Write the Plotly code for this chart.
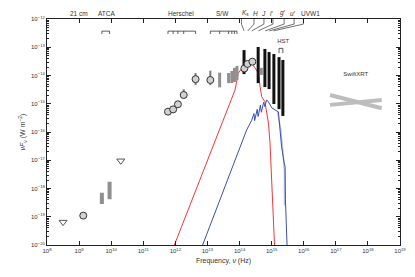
import plotly.graph_objects as go

# ---------------- data (log10 frequency [Hz], log10 nuFnu [W m^-2]) ----------------
lim_logf = [8.50, 10.30]
lim_logy = [-19.19, -17.02]

circ_logf = [9.13, 11.77, 11.93, 12.08, 12.26, 12.63, 13.09, 14.15, 14.25, 14.40]
circ_logy = [-18.96, -15.28, -15.20, -15.02, -14.69, -14.13, -14.16, -13.75, -13.59, -13.51]
circ_hi = [-18.92, -15.22, -15.14, -14.96, -14.49, -13.91, -13.83, -13.70, -13.55, -13.47]
circ_lo = [-19.00, -15.34, -15.26, -15.08, -14.81, -14.34, -14.34, -13.80, -13.63, -13.55]

radio_bar_logf = [9.71, 9.95]
radio_bar_top = [-18.15, -17.76]
radio_bar_bot = [-18.55, -18.38]

ir_bar_logf = [13.38, 13.66, 13.76, 13.84, 13.92, 14.68]
ir_bar_top = [-13.90, -13.91, -13.84, -13.73, -13.66, -13.73]
ir_bar_bot = [-14.42, -14.27, -14.27, -14.23, -14.16, -13.98]

opt_bar_logf = [14.14, 14.58, 14.79, 14.92, 15.07, 15.23, 15.35]
opt_bar_top = [-13.10, -12.99, -13.06, -13.17, -13.24, -13.35, -13.45]
opt_bar_bot = [-13.95, -14.27, -14.41, -14.48, -15.01, -15.19, -15.43]

red_logf = [11.97, 13.38, 13.60, 13.86, 13.96, 14.07, 14.20, 14.30, 14.38, 14.48, 14.59,
            14.64, 14.69, 14.79, 14.85, 14.90, 14.95, 15.00, 15.05, 15.08, 15.09]
red_logy = [-20.0, -15.93, -15.28, -14.51, -13.92, -13.75, -13.66, -13.60, -13.57, -13.73, -13.92,
            -14.40, -14.75, -14.93, -15.33, -15.68, -16.39, -17.58, -18.76, -19.93, -20.0]

blue_logf = [12.85, 14.22, 14.38, 14.45, 14.47, 14.55, 14.58, 14.65, 14.68, 14.75, 14.79,
             14.84, 14.88, 15.01, 15.21, 15.26, 15.31, 15.39, 15.42, 15.43, 15.47, 15.48]
blue_logy = [-20.0, -15.93, -15.58, -15.35, -15.60, -15.20, -15.45, -15.05, -15.30, -14.95, -15.10,
             -14.87, -14.90, -15.15, -15.29, -15.93, -16.52, -17.10, -17.23, -18.40, -19.50, -20.0]

blue_pale_logf = [15.18, 15.28, 15.36, 15.40, 15.40]
blue_pale_logy = [-15.25, -15.90, -16.80, -17.40, -18.60]

xrt_logf = [16.82, 18.43]
xrt_a_logy = [-14.69, -15.16]
xrt_b_logy = [-15.04, -14.87]

atca_legs = [9.71, 9.95]
herschel_legs = [11.77, 11.93, 12.08, 12.26, 12.63]
sw_legs = [13.09, 13.38, 13.66, 13.76, 13.84, 13.92]
hst_legs = [15.23, 15.35]

filter_names = ["<i>K</i><sub>s</sub>", "<i>H</i>", "<i>J</i>", "<i>i</i>′", "<i>g</i>′", "<i>u</i>′", "UVW1"]
filter_label_logf = [14.20, 14.51, 14.76, 15.00, 15.36, 15.68, 16.20]
filter_tick_logf = [14.06, 14.45, 14.76, 15.04, 15.39, 15.70, 15.99]
filter_true_logf = [14.14, 14.26, 14.38, 14.59, 14.80, 14.93, 15.06]

top_names = ["21 cm", "ATCA", "Herschel", "S/W"]
top_label_logf = [9.00, 9.86, 12.18, 13.48]

x_tick_exp = list(range(8, 20))
y_tick_exp = list(range(-20, -11))

# ---------------- helpers ----------------
P = lambda v: 10 ** v


def segs(xs, y0s, y1s):
    X, Y = [], []
    for x, a, b in zip(xs, y0s, y1s):
        X += [P(x), P(x), None]
        Y += [P(a), P(b), None]
    return X, Y


def bracket(legs, ytop, ybot):
    X = [P(legs[0]), P(legs[0]), None]
    Y = [P(ybot), P(ytop), None]
    X += [P(legs[0]), P(legs[-1]), None]
    Y += [P(ytop), P(ytop), None]
    for l in legs[1:]:
        X += [P(l), P(l), None]
        Y += [P(ytop), P(ybot), None]
    return X, Y


fig = go.Figure()
line_trace = lambda X, Y, color, width, **kw: go.Scatter(
    x=X, y=Y, mode="lines", line=dict(color=color, width=width), hoverinfo="skip",
    showlegend=False, **kw)

# model curves
fig.add_trace(line_trace([P(v) for v in blue_pale_logf], [P(v) for v in blue_pale_logy], "#b8c0e0", 1.5))
fig.add_trace(line_trace([P(v) for v in red_logf], [P(v) for v in red_logy], "#f0383c", 1))
fig.add_trace(line_trace([P(v) for v in blue_logf], [P(v) for v in blue_logy], "#3d4fb0", 1))

# gray bars
X, Y = segs(radio_bar_logf, radio_bar_top, radio_bar_bot)
fig.add_trace(line_trace(X, Y, "#8f8f8f", 4))
X, Y = segs(ir_bar_logf, ir_bar_top, ir_bar_bot)
fig.add_trace(line_trace(X, Y, "#8f8f8f", 3))

# black bars
X, Y = segs(opt_bar_logf, opt_bar_top, opt_bar_bot)
fig.add_trace(line_trace(X, Y, "#111111", 3))

# circle error bars
X, Y = segs(circ_logf, circ_hi, circ_lo)
fig.add_trace(line_trace(X, Y, "#7a7a7a", 2))

# circles
fig.add_trace(go.Scatter(x=[P(v) for v in circ_logf], y=[P(v) for v in circ_logy], mode="markers",
                         marker=dict(symbol="circle", size=7, color="#d2d2d2",
                                     line=dict(color="#333333", width=1)),
                         showlegend=False, hoverinfo="skip"))
# upper limits
fig.add_trace(go.Scatter(x=[P(v) for v in lim_logf], y=[P(v) for v in lim_logy], mode="markers",
                         marker=dict(symbol="triangle-down-open", size=7, color="#555555",
                                     line=dict(width=1)),
                         showlegend=False, hoverinfo="skip"))

# Swift XRT bowtie
fig.add_trace(line_trace([P(v) for v in xrt_logf], [P(v) for v in xrt_a_logy], "#bdbdbd", 4))
fig.add_trace(line_trace([P(v) for v in xrt_logf], [P(v) for v in xrt_b_logy], "#bdbdbd", 4))

# brackets under top axis
for legs in (atca_legs, herschel_legs, sw_legs):
    X, Y = bracket(legs, -12.43, -12.53)
    fig.add_trace(line_trace(X, Y, "#333333", 0.8))
X, Y = bracket(hst_legs, -13.04, -13.21)
fig.add_trace(line_trace(X, Y, "#333333", 0.8))

# filter fan lines
X, Y = [], []
for lt, tr in zip(filter_tick_logf, filter_true_logf):
    X += [P(lt), P(lt), P(tr), None]
    Y += [P(-12.0), P(-12.18), P(-12.42), None]
fig.add_trace(line_trace(X, Y, "#333333", 0.7))

# in-plot labels
fig.add_trace(go.Scatter(x=[P(15.36), P(17.62)], y=[P(-12.80), P(-13.95)], mode="text",
                         text=["HST", "SwiftXRT"],
                         textfont=dict(size=6, color="#333333", family="Liberation Sans"),
                         showlegend=False, hoverinfo="skip"))

annotations = []
for name, lf in zip(top_names + filter_names, top_label_logf + filter_label_logf):
    annotations.append(dict(x=lf, y=1.0, xref="x", yref="paper", yanchor="bottom", yshift=0,
                            text=name, showarrow=False,
                            font=dict(size=6.5, color="#333333", family="Liberation Sans")))

# page body has an 8 px default margin, so the margins are shifted to compensate
fig.update_layout(
    width=415, height=277,
    margin=dict(l=39, r=23, t=11, b=40, autoexpand=False),
    paper_bgcolor="white", plot_bgcolor="white",
    font=dict(family="Liberation Sans", size=6, color="#333333"),
    annotations=annotations,
    xaxis=dict(type="log", range=[8, 19], showgrid=False, zeroline=False, automargin=False,
               showline=True, linecolor="#222222", linewidth=1, mirror="ticks",
               ticks="inside", ticklen=4, tickcolor="#222222",
               tickvals=[P(e) for e in x_tick_exp],
               ticktext=[f"10<sup>{e}</sup>" for e in x_tick_exp],
               tickfont=dict(size=6),
               title=dict(text="Frequency, <i>ν</i> (Hz)", font=dict(size=7), standoff=4)),
    yaxis=dict(type="log", range=[-20, -12], showgrid=False, zeroline=False, automargin=False,
               showline=True, linecolor="#222222", linewidth=1, mirror="allticks",
               ticks="inside", ticklen=4, tickcolor="#222222",
               tickvals=[P(e) for e in y_tick_exp],
               ticktext=[f"10<sup>−{abs(e)}</sup>" for e in y_tick_exp],
               tickfont=dict(size=6),
               minor=dict(ticks="inside", ticklen=2, tickcolor="#222222",
                          tickvals=[m * P(e) for e in y_tick_exp[:-1] for m in range(2, 10)]),
               title=dict(text="<i>ν</i><i>F</i><sub><i>ν</i></sub> (W m<sup>−2</sup>)",
                          font=dict(size=7), standoff=4)),
)

fig.write_html("out.html")
